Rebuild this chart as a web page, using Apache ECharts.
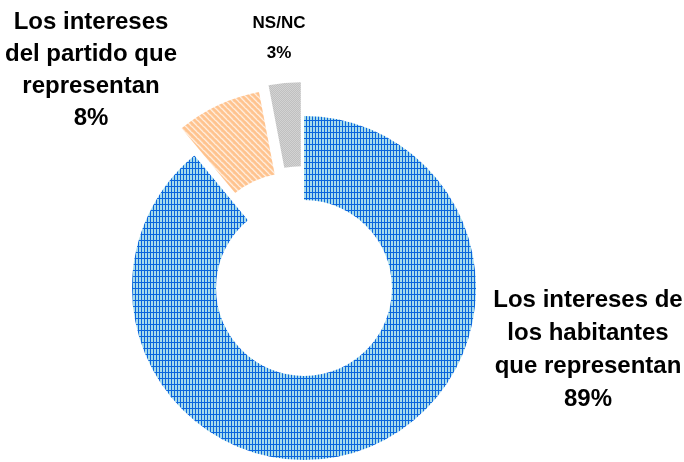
<!DOCTYPE html>
<html>
<head>
<meta charset="utf-8">
<script src="https://cdn.jsdelivr.net/npm/echarts@6/dist/echarts.min.js"></script>
<style>
  html, body { margin: 0; padding: 0; background: #ffffff; }
  #chart { width: 684px; height: 462px; }
</style>
</head>
<body>
<div id="chart"></div>
<script>
// Answer categories (label text) and their shares in percent
const categories = [
  'Los intereses de\nlos habitantes\nque representan',
  'Los intereses\ndel partido que\nrepresentan',
  'NS/NC'
];
const values = [89, 8, 3];
// How far each slice is pulled out of the ring (px)
const pullOut = [0, 30, 34];

// Fill textures for each slice
function makeTile(w, h, draw) {
  const c = document.createElement('canvas');
  c.width = w; c.height = h;
  draw(c.getContext('2d'), w, h);
  return c;
}

// blue: light cells with a fine dark-blue grid
const gridTile = makeTile(3, 6, (g, w, h) => {
  g.fillStyle = '#a6dbeb';
  g.fillRect(0, 0, w, h);
  g.fillStyle = '#0b66dd';
  g.fillRect(0, 0, 1, h);
  g.fillRect(0, 0, w, 1);
});

// orange: downward diagonal stripes on white
const stripeTile = makeTile(6, 6, (g, w, h) => {
  g.fillStyle = '#ffffff';
  g.fillRect(0, 0, w, h);
  g.strokeStyle = '#ffc38e';
  g.lineWidth = 3.2;
  for (let k = -1; k <= 1; k++) {
    g.beginPath();
    g.moveTo(k * w - 1, -1);
    g.lineTo(k * w + w + 1, h + 1);
    g.stroke();
  }
});

// grey: fine speckled texture
const dotTile = makeTile(4, 4, (g, w, h) => {
  g.fillStyle = '#e2e2e2';
  g.fillRect(0, 0, w, h);
  g.fillStyle = '#b2b2b2';
  const cells = [[0,0],[2,0],[1,1],[3,1],[0,2],[1,3],[3,3],[2,2]];
  cells.forEach(([x, y]) => g.fillRect(x, y, 1, 1));
});

const fills = [gridTile, stripeTile, dotTile];

// Label placement (pixel centres) and sizes
const labelSpots = [
  { x: 588, y: 350 },
  { x: 91, y: 70 },
  { x: 279, y: 38 }
];
const labelFont = [
  { fontSize: 24, lineHeight: 33 },
  { fontSize: 24, lineHeight: 32 },
  { fontSize: 17, lineHeight: 30 }
];

const ringCenter = [304, 288];
const ringRadius = [88, 172];

// One ring layer per distinct pull-out distance; slices belonging to
// another layer are left unpainted in this one.
const offsets = Array.from(new Set(pullOut));
const ringLayers = offsets.map(off => ({
  type: 'pie',
  center: ringCenter,
  radius: ringRadius,
  startAngle: 90,
  clockwise: true,
  selectedMode: 'multiple',
  selectedOffset: off,
  silent: true,
  emphasis: { disabled: true },
  label: { show: false },
  labelLine: { show: false },
  data: values.map((v, i) => ({
    name: categories[i],
    value: v,
    selected: pullOut[i] > 0,
    itemStyle: pullOut[i] === off
      ? { color: { image: fills[i], repeat: 'repeat' } }
      : { color: 'rgba(0,0,0,0)' }
  }))
}));

// Text layer: same slices, invisible, carrying the category labels
const labelLayer = {
  type: 'pie',
  center: ringCenter,
  radius: ringRadius,
  startAngle: 90,
  clockwise: true,
  silent: true,
  avoidLabelOverlap: false,
  emphasis: { disabled: true },
  itemStyle: { color: 'rgba(0,0,0,0)' },
  label: {
    show: true,
    position: 'outside',
    formatter: '{b}\n{c}%',
    color: '#000000',
    fontFamily: 'Liberation Sans, Arial, sans-serif',
    fontWeight: 'bold',
    align: 'center'
  },
  labelLine: { show: false },
  labelLayout: function (p) {
    const s = labelSpots[p.dataIndex];
    return { x: s.x, y: s.y, align: 'center', verticalAlign: 'middle' };
  },
  data: values.map((v, i) => ({
    name: categories[i],
    value: v,
    label: labelFont[i]
  }))
};

const chart = echarts.init(document.getElementById('chart'), null, { renderer: 'canvas' });
chart.setOption({
  animation: false,
  backgroundColor: '#ffffff',
  series: ringLayers.concat([labelLayer])
});
</script>
</body>
</html>
